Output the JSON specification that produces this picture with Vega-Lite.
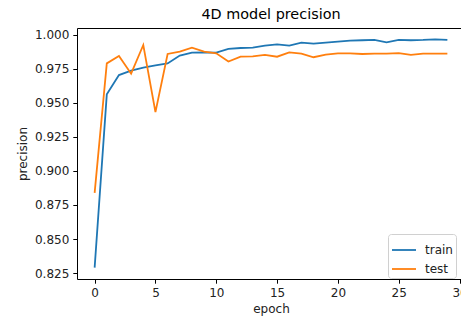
{
  "$schema": "https://vega.github.io/schema/vega-lite/v6.json",
  "autosize": {"type": "none"},
  "padding": {"left": 77, "top": 28, "right": 0, "bottom": 41},
  "width": 388,
  "height": 251,
  "background": "white",
  "title": {"text": "4D model precision", "fontSize": 14.4, "fontWeight": "normal", "font": "DejaVu Sans", "color": "#000", "offset": 6, "anchor": "middle"},
  "config": {
    "font": "DejaVu Sans",
    "view": {"stroke": "#000", "strokeWidth": 1},
    "axis": {"grid": false, "domain": false, "tickColor": "#000", "tickSize": 4.2, "tickWidth": 1, "labelFont": "DejaVu Sans", "labelFontSize": 12, "labelColor": "#222", "labelPadding": 4, "titleFont": "DejaVu Sans", "titleFontSize": 12, "titleFontWeight": "normal", "titleColor": "#222"}
  },
  "data": {"values": [
    {"epoch": 0, "series": "train", "precision": 0.829},
    {"epoch": 1, "series": "train", "precision": 0.9563},
    {"epoch": 2, "series": "train", "precision": 0.9705},
    {"epoch": 3, "series": "train", "precision": 0.9737},
    {"epoch": 4, "series": "train", "precision": 0.976},
    {"epoch": 5, "series": "train", "precision": 0.9777},
    {"epoch": 6, "series": "train", "precision": 0.979},
    {"epoch": 7, "series": "train", "precision": 0.9848},
    {"epoch": 8, "series": "train", "precision": 0.987},
    {"epoch": 9, "series": "train", "precision": 0.9872},
    {"epoch": 10, "series": "train", "precision": 0.987},
    {"epoch": 11, "series": "train", "precision": 0.9897},
    {"epoch": 12, "series": "train", "precision": 0.9904},
    {"epoch": 13, "series": "train", "precision": 0.9907},
    {"epoch": 14, "series": "train", "precision": 0.9921},
    {"epoch": 15, "series": "train", "precision": 0.9931},
    {"epoch": 16, "series": "train", "precision": 0.9921},
    {"epoch": 17, "series": "train", "precision": 0.9944},
    {"epoch": 18, "series": "train", "precision": 0.9936},
    {"epoch": 19, "series": "train", "precision": 0.9944},
    {"epoch": 20, "series": "train", "precision": 0.9951},
    {"epoch": 21, "series": "train", "precision": 0.9958},
    {"epoch": 22, "series": "train", "precision": 0.9961},
    {"epoch": 23, "series": "train", "precision": 0.9963},
    {"epoch": 24, "series": "train", "precision": 0.9946},
    {"epoch": 25, "series": "train", "precision": 0.9963},
    {"epoch": 26, "series": "train", "precision": 0.9961},
    {"epoch": 27, "series": "train", "precision": 0.9963},
    {"epoch": 28, "series": "train", "precision": 0.9968},
    {"epoch": 29, "series": "train", "precision": 0.9963},
    {"epoch": 0, "series": "test", "precision": 0.8839},
    {"epoch": 1, "series": "test", "precision": 0.9791},
    {"epoch": 2, "series": "test", "precision": 0.9845},
    {"epoch": 3, "series": "test", "precision": 0.9715},
    {"epoch": 4, "series": "test", "precision": 0.9926},
    {"epoch": 5, "series": "test", "precision": 0.9433},
    {"epoch": 6, "series": "test", "precision": 0.986},
    {"epoch": 7, "series": "test", "precision": 0.9877},
    {"epoch": 8, "series": "test", "precision": 0.9907},
    {"epoch": 9, "series": "test", "precision": 0.9877},
    {"epoch": 10, "series": "test", "precision": 0.9865},
    {"epoch": 11, "series": "test", "precision": 0.9804},
    {"epoch": 12, "series": "test", "precision": 0.984},
    {"epoch": 13, "series": "test", "precision": 0.9843},
    {"epoch": 14, "series": "test", "precision": 0.9853},
    {"epoch": 15, "series": "test", "precision": 0.984},
    {"epoch": 16, "series": "test", "precision": 0.9872},
    {"epoch": 17, "series": "test", "precision": 0.9863},
    {"epoch": 18, "series": "test", "precision": 0.9836},
    {"epoch": 19, "series": "test", "precision": 0.9855},
    {"epoch": 20, "series": "test", "precision": 0.9865},
    {"epoch": 21, "series": "test", "precision": 0.9865},
    {"epoch": 22, "series": "test", "precision": 0.986},
    {"epoch": 23, "series": "test", "precision": 0.9863},
    {"epoch": 24, "series": "test", "precision": 0.9863},
    {"epoch": 25, "series": "test", "precision": 0.9867},
    {"epoch": 26, "series": "test", "precision": 0.9853},
    {"epoch": 27, "series": "test", "precision": 0.9863},
    {"epoch": 28, "series": "test", "precision": 0.9863},
    {"epoch": 29, "series": "test", "precision": 0.9863}
  ]},
  "mark": {"type": "line", "strokeWidth": 1.8, "clip": true},
  "encoding": {
    "x": {"field": "epoch", "type": "quantitative", "scale": {"domain": [-1.45, 30.45], "nice": false, "zero": false}, "axis": {"values": [0, 5, 10, 15, 20, 25, 30], "title": "epoch", "titlePadding": 5}},
    "y": {"field": "precision", "type": "quantitative", "scale": {"domain": [0.8206, 1.0051], "nice": false, "zero": false}, "axis": {"values": [0.825, 0.85, 0.875, 0.9, 0.925, 0.95, 0.975, 1.0], "format": ".3f", "title": "precision", "titlePadding": 5}},
    "color": {"field": "series", "type": "nominal", "scale": {"domain": ["train", "test"], "range": ["#1f77b4", "#ff7f0e"]},
      "legend": {"title": null, "orient": "none", "legendX": 311, "legendY": 206, "symbolType": "stroke", "symbolSize": 576, "symbolStrokeWidth": 1.8, "labelFontSize": 12, "labelColor": "#222", "labelFont": "DejaVu Sans", "strokeColor": "#d0d0d0", "fillColor": "white", "cornerRadius": 3, "padding": 3, "rowPadding": -12, "labelOffset": 8}}
  }
}
